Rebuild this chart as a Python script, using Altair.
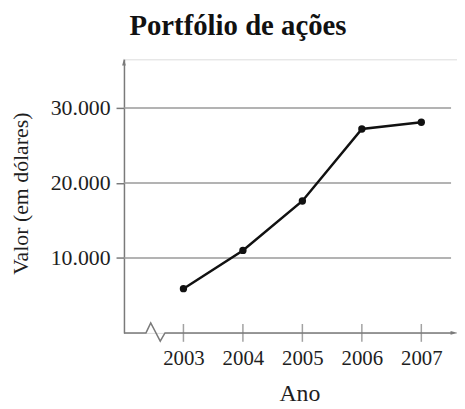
import altair as alt
import pandas as pd

# ---- data ----
title_text = ["Portfólio de ações"]
years = [2003, 2004, 2005, 2006, 2007]
values = [5900, 11000, 17600, 27200, 28100]
y_ticks = [10000, 20000, 30000]
grid_start = [2002, 2002, 2002]
grid_end = [2007.5, 2007.5, 2007.5]
# x-axis baseline with the "break" zigzag
axis_x = [2002, 2002.37, 2002.45, 2002.61, 2002.69, 2007.5]
axis_y = [0, 0, 1320, -1100, 0, 0]

FONT = "Liberation Serif"
AXIS_COLOR = "#7a7a7a"
TEXT_COLOR = "#1e1e1e"

xs = alt.Scale(domain=[2002, 2007.6], nice=False, zero=False)
ys = alt.Scale(domain=[0, 36500], nice=False, zero=False)

xaxis = alt.Axis(
    values=years, format="d", domain=False, ticks=False, tickSize=0, grid=False,
    labelFont=FONT, labelFontSize=21, labelColor=TEXT_COLOR, labelPadding=15,
    labelOverlap=False, labelFlush=False,
    title="Ano", titleFont=FONT, titleFontSize=24, titleFontWeight="normal",
    titleColor=TEXT_COLOR, titleX=177, titleY=68, titleBaseline="alphabetic",
    titleAlign="center",
)
yaxis = alt.Axis(
    values=y_ticks, domain=True, domainColor=AXIS_COLOR, domainWidth=1.5,
    ticks=True, tickSize=8, tickColor=AXIS_COLOR, tickWidth=1.5, grid=False,
    labelExpr="replace(format(datum.value, ','), ',', '.')",
    labelFont=FONT, labelFontSize=22, labelColor=TEXT_COLOR, labelPadding=6,
    title="Valor (em dólares)", titleFont=FONT, titleFontSize=22,
    titleFontWeight="normal", titleColor=TEXT_COLOR, titleAngle=-90,
    titleX=-104, titleY=135, titleAlign="center", titleBaseline="middle",
)

X = alt.X("x:Q", scale=xs, axis=xaxis)
Y = alt.Y("y:Q", scale=ys, axis=yaxis)

df_line = pd.DataFrame({"x": years, "y": values})
df_grid = pd.DataFrame({"x": grid_start, "x2": grid_end, "y": y_ticks})
df_axis = pd.DataFrame({"x": axis_x, "y": axis_y, "i": list(range(len(axis_x)))})
df_ticks = pd.DataFrame({"x": years, "y": [0] * len(years)})
df_up = pd.DataFrame({"x": [2002], "y": [35900]})
df_right = pd.DataFrame({"x": [2007.52], "y": [0]})
df_title = pd.DataFrame({"t": title_text})

grid = alt.Chart(df_grid).mark_rule(color="#9a9a9a", strokeWidth=1.6).encode(
    x=X, x2="x2", y=Y)
xline = alt.Chart(df_axis).mark_line(color=AXIS_COLOR, strokeWidth=1.5, clip=False).encode(
    x=X, y=Y, order="i:Q")
xticks = alt.Chart(df_ticks).mark_tick(color=AXIS_COLOR, size=18, thickness=1.5,
                                       orient="vertical").encode(x=X, y=Y)
arrow_up = alt.Chart(df_up).mark_point(
    shape="M0,-1.5L0.55,0.5L-0.55,0.5Z", filled=True, size=45, color=AXIS_COLOR,
    opacity=1).encode(x=X, y=Y)
arrow_right = alt.Chart(df_right).mark_point(
    shape="M1.5,0L-0.5,0.55L-0.5,-0.55Z", filled=True, size=45, color=AXIS_COLOR,
    opacity=1).encode(x=X, y=Y)
line = alt.Chart(df_line).mark_line(color="#111111", strokeWidth=2.5).encode(x=X, y=Y)
pts = alt.Chart(df_line).mark_point(filled=True, size=55, color="#111111", opacity=1).encode(
    x=X, y=Y)
title = alt.Chart(df_title).mark_text(
    font=FONT, fontSize=29, fontWeight="bold", color="#111111", align="center",
    baseline="alphabetic").encode(text="t:N", x=alt.value(115), y=alt.value(-25))

chart = alt.layer(grid, xline, xticks, arrow_up, arrow_right, line, pts, title).properties(
    width=336, height=276,
    autosize=alt.AutoSizeParams(type="none"),
    padding={"left": 117, "top": 50, "right": 0, "bottom": 75},
).configure_view(stroke=None).configure(background="white")

chart.save("out.html", embed_options={"renderer": "svg", "actions": False})
